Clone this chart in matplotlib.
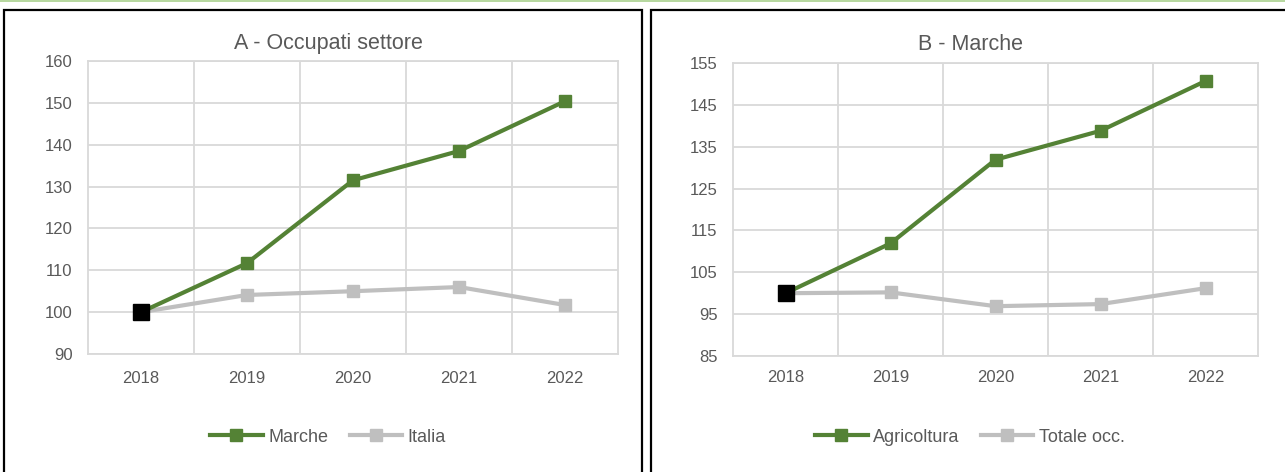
import matplotlib.pyplot as plt
import matplotlib.patches as patches
from matplotlib.lines import Line2D
import numpy as np

plt.rcParams['font.family'] = ['Liberation Sans', 'DejaVu Sans']

years = ["2018", "2019", "2020", "2021", "2022"]

# Panel A - Occupati settore
marche = [100, 111.7, 131.5, 138.5, 150.4]
italia = [100, 104.1, 105.0, 106.0, 101.7]

# Panel B - Marche
agricoltura = [100, 111.9, 131.9, 138.8, 150.7]
totale_occ = [100, 100.2, 96.9, 97.4, 101.2]

GREEN = "#548235"
GRAY = "#bfbfbf"
TXT = "#595959"
GRID = "#d9d9d9"

W, H = 1285, 472
fig = plt.figure(figsize=(W / 100, H / 100), dpi=100)


def px_axes(x0, y0, x1, y1):
    return fig.add_axes([x0 / W, 1 - y1 / H, (x1 - x0) / W, (y1 - y0) / H])


def panel(ax, title, s1, s2, names, ylim, step, cx, xpad):
    x = np.arange(len(years))
    ax.plot(x, s2, color=GRAY, lw=3, marker="s", ms=9, mfc=GRAY, mec=GRAY, zorder=3)
    ax.plot(x, s1, color=GREEN, lw=3, marker="s", ms=9, mfc=GREEN, mec=GREEN, zorder=4)
    ax.plot(x[0], s1[0], marker="s", ms=11, mfc="black", mec="black", ls="none", zorder=5)
    ax.set_xlim(-0.5, len(years) - 0.5)
    ax.set_ylim(*ylim)
    ax.set_yticks(np.arange(ylim[0], ylim[1] + 1, step))
    ax.set_xticks(x)
    ax.set_xticklabels(years)
    ax.set_xticks(np.arange(0.5, len(years) - 1, 1), minor=True)
    ax.grid(axis="y", which="major", color=GRID, lw=1.3)
    ax.grid(axis="x", which="minor", color=GRID, lw=1.3)
    ax.tick_params(which="both", length=0, labelsize=12, colors=TXT, pad=11)
    ax.tick_params(axis="x", pad=xpad)
    for s in ax.spines.values():
        s.set_color(GRID)
        s.set_linewidth(1.3)
    # title and legend are centred on the whole panel, not on the plot area
    bb = ax.get_position()
    tx = (cx / W - bb.x0) / bb.width
    ax.set_title(title, fontsize=15.5, color=TXT, pad=9, x=tx)
    handles = [
        Line2D([], [], color=GREEN, lw=3, marker="s", ms=8, mfc=GREEN, mec=GREEN),
        Line2D([], [], color=GRAY, lw=3, marker="s", ms=8, mfc=GRAY, mec=GRAY),
    ]
    fig.legend(handles, names, loc="center", bbox_to_anchor=(cx / W, 1 - 437 / H), ncol=2,
               frameon=False, fontsize=13, labelcolor=TXT, handlelength=2.9,
               handletextpad=0.3, columnspacing=1.2)


axA = px_axes(88, 61, 618, 354)
panel(axA, "A - Occupati settore", marche, italia, ["Marche", "Italia"], (90, 160), 10, 328, 12)

axB = px_axes(733, 63, 1258, 356)
panel(axB, "B - Marche", agricoltura, totale_occ, ["Agricoltura", "Totale occ."], (85, 155), 10, 970, 10)

# panel borders and top rule
fig.add_artist(patches.Rectangle((4 / W, -0.1), 638 / W, 1.1 - 10 / H, transform=fig.transFigure,
                                 fill=False, ec="black", lw=1.6))
fig.add_artist(patches.Rectangle((651 / W, -0.1), 700 / W, 1.1 - 10 / H, transform=fig.transFigure,
                                 fill=False, ec="black", lw=1.6))
fig.add_artist(Line2D([0, 1], [1 - 0.5 / H, 1 - 0.5 / H], transform=fig.transFigure,
                      color="#a9d18e", lw=1.2))

fig.savefig("out.png", dpi=100)
